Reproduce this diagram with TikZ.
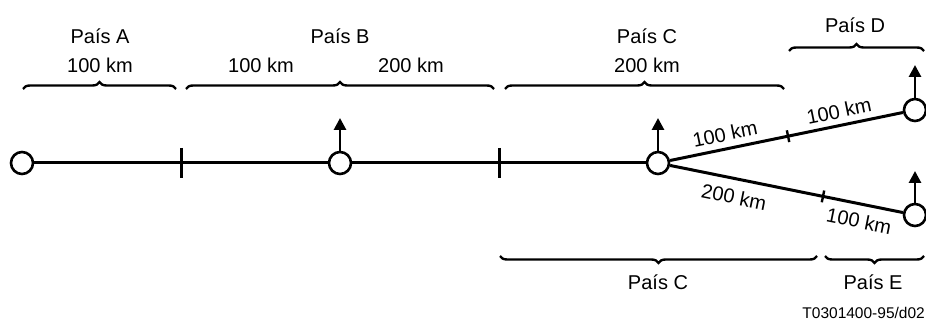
\documentclass[tikz,border=0pt]{standalone}
\usepackage{fontspec}
\setmainfont{Liberation Sans}
\usetikzlibrary{arrows.meta,decorations.pathreplacing,calc}
\begin{document}
\begin{tikzpicture}[x=1pt,y=-1pt,
 stn/.style={circle,draw,fill=white,line width=2.6pt,minimum size=22pt,inner sep=0pt},
 link/.style={line width=3pt},
 tickmark/.style={line width=3pt},
 uparrow/.style={line width=2.8pt,-{Triangle[width=12pt,length=12pt]}},
 brc/.style={decorate,decoration={brace,amplitude=7pt},line width=2.4pt},
 lbl/.style={font=\fontsize{20}{24}\selectfont,inner sep=0pt},
 smalllbl/.style={font=\fontsize{15.5}{18}\selectfont,inner sep=0pt}]
\useasboundingbox (0,0) rectangle (926,323);

% coordinates of ticks on the main line
\coordinate (t1) at (181,163);
\coordinate (t2) at (499,163);

% stations
\node[stn] (a) at (22,163) {};
\node[stn] (b) at (340,163) {};
\node[stn] (c) at (658,163) {};
\node[stn] (d) at (915,110) {};
\node[stn] (e) at (915,215) {};

% links
\draw[link] (a) -- (b);
\draw[link] (b) -- (c);
\draw[link] (c) -- (d);
\draw[link] (c) -- (e);

% ticks
\draw[tickmark] ($(t1)+(0,-15)$) -- ($(t1)+(0,15)$);
\draw[tickmark] ($(t2)+(0,-15)$) -- ($(t2)+(0,15)$);
\coordinate (u) at ($(c.center)!0.506!(d.center)$);
\coordinate (l) at ($(c.center)!0.642!(e.center)$);
\draw[line width=2.4pt] ($(u)!6pt!90:(d.center)$) -- ($(u)!6pt!-90:(d.center)$);
\draw[line width=2.4pt] ($(l)!6pt!90:(e.center)$) -- ($(l)!6pt!-90:(e.center)$);

% arrows
\coordinate (bt) at (340,118);
\coordinate (ct) at (658,118);
\coordinate (dt) at (915,65);
\coordinate (et) at (915,171);
\draw[uparrow] (b.north) -- (bt);
\draw[uparrow] (c.north) -- (ct);
\draw[uparrow] (d.north) -- (dt);
\draw[uparrow] (e.north) -- (et);

% top braces
\draw[brc] (23,89) -- (176,89);
\draw[brc] (186,89) -- (494,89);
\draw[brc] (505,89) -- (784,89);
\draw[brc] (789,51) -- (924,51);
% bottom braces
\draw[brc] (817,256) -- (500,256);
\draw[brc] (924,256) -- (825,256);

% labels
\node[lbl,anchor=base] (pa) at (100,43.3) {País A};
\node[lbl,anchor=base] (ka) at (100,72.7) {100 km};
\node[lbl,anchor=base] (pb) at (340,43.3) {País B};
\node[lbl,anchor=base] (kb1) at (261,72.7) {100 km};
\node[lbl,anchor=base] (kb2) at (411,72.7) {200 km};
\node[lbl,anchor=base] (pc) at (647,43.3) {País C};
\node[lbl,anchor=base] (kc) at (647,72.7) {200 km};
\node[lbl,anchor=base] (pd) at (855,32.3) {País D};
\node[lbl,rotate=11.6] (ku1) at (725,134) {100 km};
\node[lbl,rotate=11.6] (ku2) at (839,111) {100 km};
\node[lbl,rotate=-11.4] (kl1) at (734,197) {200 km};
\node[lbl,rotate=-11.4] (kl2) at (859,221) {100 km};
\node[lbl,anchor=base] (pc2) at (658,289.3) {País C};
\node[lbl,anchor=base] (pe) at (873,289.3) {País E};
\node[smalllbl,anchor=base east] (ref) at (925,318) {T0301400-95/d02};
\end{tikzpicture}
\end{document}
